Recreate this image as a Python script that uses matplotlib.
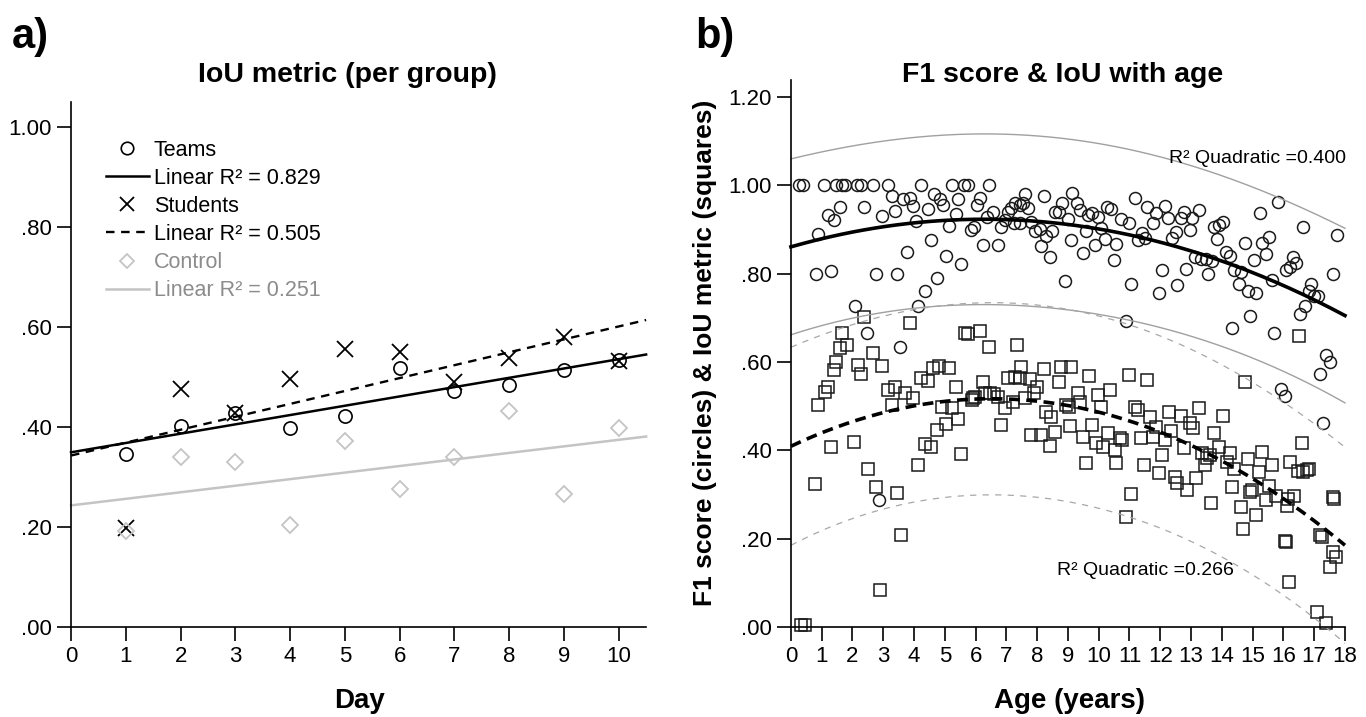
import numpy as np
import matplotlib
matplotlib.use('Agg')
import matplotlib.pyplot as plt
from matplotlib.lines import Line2D

plt.rcParams['font.family'] = ['Liberation Sans', 'DejaVu Sans']

# panel a: IoU per group and day
days = [1, 2, 3, 4, 5, 6, 7, 8, 9, 10]
teams = [0.346, 0.402, 0.428, 0.398, 0.423, 0.519, 0.472, 0.484, 0.514, 0.534]
students = [0.199, 0.477, 0.428, 0.497, 0.556, 0.551, 0.491, 0.538, 0.581, 0.533]
control = [0.193, 0.340, 0.330, 0.205, 0.372, 0.276, 0.341, 0.432, 0.267, 0.399]
group_names = ['Teams', 'Students', 'Control']
linear_r2 = ['0.829', '0.505', '0.251']

# panel b: F1 score (circles) and IoU (squares) against age
circle_age = [
    0.26, 0.40, 1.08, 1.48, 1.67, 1.77, 2.16, 2.27, 2.67, 3.16, 4.24, 5.24, 5.63, 5.74, 6.43,
    0.89, 1.19, 1.40, 1.59, 0.80, 1.29, 2.38, 2.96, 3.38, 3.27, 3.65, 3.86, 3.97, 4.06, 2.78,
    3.46, 3.76, 4.46, 4.65, 4.84, 4.95, 5.43, 5.35, 5.13, 4.55, 5.03, 5.54, 4.73, 4.35, 4.13,
    2.08, 2.46, 3.54, 5.84, 5.94, 6.03, 6.14, 6.24, 6.73, 6.38, 6.57, 6.82, 6.95, 7.04, 7.16,
    7.27, 7.43, 7.54, 7.62, 7.70, 7.25, 7.43, 7.81, 7.92, 8.08, 8.22, 8.30, 8.48, 8.12, 8.41,
    8.59, 8.70, 8.81, 9.00, 9.09, 9.13, 8.90,
    9.30, 9.38, 9.65, 9.79, 9.98, 9.60, 9.87, 9.49, 10.09, 10.19, 10.27, 10.41, 10.57, 10.49,
    10.73, 10.98, 11.17, 11.39, 11.28, 11.49, 11.57, 11.76, 11.87, 12.16, 12.25, 12.39, 12.50,
    12.07, 11.06, 11.96, 12.54, 12.85, 12.68, 12.76, 13.04, 13.26, 12.98, 13.12, 13.33, 13.47,
    13.69, 13.55, 13.73, 13.91, 14.04, 13.84, 14.12, 14.25, 14.41, 14.63, 14.56, 14.85, 15.12,
    14.74, 15.03, 15.31, 15.53, 15.44, 15.23, 15.82, 15.64, 14.92, 14.34, 15.71, 16.09, 16.20,
    16.31, 16.42, 16.63, 16.90, 16.83, 17.01, 17.12, 16.69, 16.53, 17.61, 17.75, 10.88,
    17.39, 17.50, 17.20, 15.93, 16.04, 17.30, 2.87,
]
circle_f1 = [
    1.00, 1.00, 1.00, 1.00, 1.00, 1.00, 1.00, 1.00, 1.00, 1.00, 1.00, 1.00, 1.00, 1.00, 1.00,
    0.890, 0.933, 0.922, 0.951, 0.799, 0.806, 0.951, 0.932, 0.942, 0.976, 0.970, 0.971, 0.954, 0.920, 0.799,
    0.799, 0.849, 0.946, 0.981, 0.969, 0.956, 0.970, 0.935, 0.908, 0.876, 0.840, 0.822, 0.790, 0.762, 0.727,
    0.727, 0.667, 0.635, 0.899, 0.905, 0.956, 0.971, 0.865, 0.865, 0.929, 0.941, 0.907, 0.922, 0.941, 0.948,
    0.960, 0.956, 0.960, 0.981, 0.948, 0.914, 0.914, 0.918, 0.898, 0.901, 0.976, 0.886, 0.898, 0.863, 0.839,
    0.941, 0.939, 0.961, 0.923, 0.876, 0.984, 0.784,
    0.960, 0.945, 0.933, 0.937, 0.929, 0.897, 0.865, 0.846, 0.903, 0.878, 0.952, 0.946, 0.868, 0.831,
    0.923, 0.914, 0.971, 0.893, 0.877, 0.880, 0.951, 0.914, 0.937, 0.954, 0.926, 0.880, 0.895,
    0.809, 0.778, 0.757, 0.775, 0.810, 0.926, 0.941, 0.926, 0.945, 0.899, 0.837, 0.833, 0.833,
    0.830, 0.800, 0.905, 0.910, 0.918, 0.878, 0.850, 0.840, 0.809, 0.805, 0.778, 0.762, 0.757,
    0.869, 0.831, 0.869, 0.883, 0.845, 0.938, 0.963, 0.786, 0.705, 0.678, 0.667, 0.809, 0.816,
    0.839, 0.824, 0.907, 0.778, 0.760, 0.750, 0.750, 0.727, 0.710, 0.800, 0.888, 0.693,
    0.616, 0.600, 0.572, 0.539, 0.523, 0.463, 0.288,
]
square_age = [
    2.38, 3.86, 1.67, 5.65, 5.74, 6.14, 6.43, 7.33,
    1.59, 1.81, 2.67, 1.48, 1.41, 2.19, 2.29, 2.96, 1.19, 1.10, 0.89, 4.62, 4.80, 5.13, 4.24,
    4.46, 3.16, 3.38, 3.70, 3.97, 3.27, 5.35, 4.91, 5.24, 5.43, 5.05, 4.76, 4.35, 4.55, 4.13,
    5.54, 6.24, 5.87, 5.92, 5.97, 6.30, 6.46, 6.60, 6.73, 6.95, 6.82, 7.22, 7.06, 7.27, 7.43,
    7.49, 7.76, 8.01, 7.90, 7.62, 8.22, 8.70, 8.79, 9.09, 8.30, 8.46, 8.95, 9.03, 8.59, 8.12,
    7.81, 8.41, 9.06, 2.06, 1.30, 2.49, 0.78, 2.78, 3.46,
    9.69, 10.98, 11.57, 14.74, 16.50, 9.33, 9.38, 9.98, 10.38, 10.09, 11.17, 11.28, 11.65,
    12.28, 12.68, 12.95, 13.06, 13.26, 14.04, 9.49, 9.79, 10.30, 9.92, 10.14, 10.52, 10.68,
    10.77, 11.38, 11.85, 11.76, 12.14, 12.36, 12.07, 12.76, 13.37, 13.52, 13.60, 13.73, 13.91,
    14.25, 14.17, 14.41, 13.44, 9.60, 10.57, 11.46, 11.96, 12.47, 12.54, 12.87, 13.15, 11.06,
    10.88, 14.85, 15.31, 15.21, 15.64, 14.34, 14.99, 14.92, 15.53, 15.44, 15.77, 16.15, 16.33,
    16.11, 15.12, 14.63, 13.66, 16.20, 16.47, 16.63, 16.76, 16.83, 16.61, 17.61, 17.66,
    14.70, 16.05, 16.10, 17.19, 17.25, 17.60, 17.70, 17.50, 16.17, 17.10, 17.40, 0.33, 0.45,
    3.58, 2.89,
]
square_iou = [
    0.703, 0.688, 0.667, 0.667, 0.664, 0.670, 0.635, 0.639,
    0.633, 0.639, 0.620, 0.601, 0.581, 0.593, 0.574, 0.591, 0.544, 0.533, 0.503, 0.586, 0.591, 0.586, 0.563,
    0.558, 0.537, 0.544, 0.531, 0.518, 0.503, 0.543, 0.499, 0.495, 0.470, 0.460, 0.446, 0.414, 0.407, 0.367,
    0.392, 0.556, 0.514, 0.518, 0.522, 0.529, 0.531, 0.528, 0.522, 0.495, 0.457, 0.510, 0.563, 0.567, 0.565,
    0.590, 0.561, 0.544, 0.531, 0.518, 0.584, 0.556, 0.588, 0.588, 0.488, 0.476, 0.503, 0.499, 0.442, 0.435,
    0.435, 0.410, 0.455, 0.420, 0.408, 0.357, 0.324, 0.318, 0.304,
    0.568, 0.571, 0.559, 0.556, 0.660, 0.529, 0.510, 0.525, 0.537, 0.499, 0.499, 0.491, 0.476,
    0.488, 0.478, 0.463, 0.450, 0.497, 0.478, 0.431, 0.457, 0.440, 0.416, 0.408, 0.401, 0.427,
    0.423, 0.427, 0.452, 0.431, 0.423, 0.445, 0.389, 0.405, 0.393, 0.382, 0.389, 0.440, 0.407,
    0.393, 0.374, 0.359, 0.367, 0.372, 0.371, 0.367, 0.349, 0.340, 0.327, 0.310, 0.337, 0.301,
    0.250, 0.380, 0.397, 0.352, 0.367, 0.316, 0.310, 0.306, 0.319, 0.288, 0.297, 0.291, 0.297,
    0.274, 0.254, 0.272, 0.282, 0.374, 0.354, 0.352, 0.356, 0.357, 0.417, 0.294, 0.291,
    0.222, 0.195, 0.192, 0.208, 0.205, 0.171, 0.158, 0.135, 0.103, 0.035, 0.008, 0.005, 0.005,
    0.208, 0.084,
]
quad_r2 = ['0.400', '0.266']


def quad_fit(x, y, grid):
    # quadratic fit with 95% interval for individual values
    x = np.asarray(x)
    y = np.asarray(y)
    X = np.column_stack([np.ones_like(x), x, x ** 2])
    beta = np.linalg.lstsq(X, y, rcond=None)[0]
    s = np.sqrt(np.sum((y - X @ beta) ** 2) / (len(x) - 3))
    G = np.column_stack([np.ones_like(grid), grid, grid ** 2])
    fit = G @ beta
    cov = np.linalg.inv(X.T @ X)
    se = s * np.sqrt(1 + np.einsum('ij,jk,ik->i', G, cov, G))
    return fit, fit - 1.97 * se, fit + 1.97 * se


fig = plt.figure(figsize=(13.66, 7.17), dpi=100)
axA = fig.add_axes([0.052, 0.1255, 0.421, 0.732])
axB = fig.add_axes([0.579, 0.1255, 0.4056, 0.7636])

# ---- panel a
grid_a = np.linspace(0, 10.5, 50)
grey = '#c4c4c4'
axA.plot(days, teams, 'o', mfc='none', mec='black', ms=9.5, mew=1.2)
axA.plot(days, students, 'x', color='black', ms=11, mew=1.3)
axA.plot(days, control, 'D', mfc='none', mec=grey, ms=8, mew=1.3)
styles = [dict(color='black', lw=1.8, ls='-'),
          dict(color='black', lw=1.7, ls=(0, (3.6, 2.8))),
          dict(color=grey, lw=1.8, ls='-')]
for vals, st in zip([teams, students, control], styles):
    k, b = np.polyfit(days, vals, 1)
    axA.plot(grid_a, k * grid_a + b, **st)

handles = [
    Line2D([], [], marker='o', ls='none', mfc='none', mec='black', ms=9, mew=1.2),
    Line2D([], [], **styles[0]),
    Line2D([], [], marker='x', ls='none', color='black', ms=10, mew=1.3),
    Line2D([], [], **styles[1]),
    Line2D([], [], marker='D', ls='none', mfc='none', mec=grey, ms=7, mew=1.3),
    Line2D([], [], **styles[2]),
]
labels = []
for name, r2 in zip(group_names, linear_r2):
    labels += [name, 'Linear R\u00b2 = ' + r2]
leg = axA.legend(handles, labels, loc='upper left', bbox_to_anchor=(0.045, 0.945),
                 frameon=False, fontsize=15.5, handlelength=2.0, handletextpad=0.25,
                 labelspacing=0.33, borderaxespad=0)
for t, c in zip(leg.get_texts(), ['black', 'black', 'black', 'black', '#8c8c8c', '#8c8c8c']):
    t.set_color(c)

axA.set_xlim(0, 10.5)
axA.set_ylim(0, 1.05)
axA.set_xticks(range(0, 11))
axA.set_yticks([0, 0.2, 0.4, 0.6, 0.8, 1.0])
axA.set_yticklabels(['.00', '.20', '.40', '.60', '.80', '1.00'])

# ---- panel b
grid_b = np.linspace(0, 18, 200)
axB.plot(circle_age, circle_f1, 'o', mfc='none', mec='#1a1a1a', ms=8.6, mew=1.1)
axB.plot(square_age, square_iou, 's', mfc='none', mec='#1a1a1a', ms=8.4, mew=1.1)
fit, lo, hi = quad_fit(circle_age, circle_f1, grid_b)
axB.plot(grid_b, fit, color='black', lw=2.6)
axB.plot(grid_b, lo, color='#a0a0a0', lw=1.0)
axB.plot(grid_b, hi, color='#a0a0a0', lw=1.0)
fit, lo, hi = quad_fit(square_age, square_iou, grid_b)
axB.plot(grid_b, fit, color='black', lw=2.6, ls=(0, (3, 1.8)))
axB.plot(grid_b, lo, color='#a8a8a8', lw=0.9, ls=(0, (5, 5)))
axB.plot(grid_b, hi, color='#a8a8a8', lw=0.9, ls=(0, (5, 5)))

axB.text(12.28, 1.061, 'R\u00b2 Quadratic =' + quad_r2[0], fontsize=14, va='center')
axB.text(8.64, 0.129, 'R\u00b2 Quadratic =' + quad_r2[1], fontsize=14, va='center')

axB.set_xlim(0, 18)
axB.set_ylim(0, 1.24)
axB.set_xticks(range(0, 19))
axB.set_yticks([0, 0.2, 0.4, 0.6, 0.8, 1.0, 1.2])
axB.set_yticklabels(['.00', '.20', '.40', '.60', '.80', '1.00', '1.20'])
axB.set_ylabel('F1 score (circles) & IoU metric (squares)', fontsize=19, fontweight='bold', labelpad=8)

for ax in (axA, axB):
    ax.spines['top'].set_visible(False)
    ax.spines['right'].set_visible(False)
    ax.spines['left'].set_linewidth(1.2)
    ax.spines['bottom'].set_linewidth(1.2)
    ax.tick_params(direction='out', length=10, width=1.2, labelsize=16, pad=4)
    ax.patch.set_visible(False)
    for t in ax.get_lines():
        t.set_clip_on(False)

fig.text(347 / 1366, 1 - 82 / 717, 'IoU metric (per group)', ha='center', va='baseline',
         fontsize=20.5, fontweight='bold')
fig.text(1063 / 1366, 1 - 82 / 717, 'F1 score & IoU with age', ha='center', va='baseline',
         fontsize=20.5, fontweight='bold')
fig.text(360 / 1366, 1 - 708 / 717, 'Day', ha='center', va='baseline', fontsize=20, fontweight='bold')
fig.text(1070 / 1366, 1 - 708 / 717, 'Age (years)', ha='center', va='baseline', fontsize=20,
         fontweight='bold')
fig.text(12 / 1366, 1 - 48 / 717, 'a)', ha='left', va='baseline', fontsize=30, fontweight='bold')
fig.text(695 / 1366, 1 - 48 / 717, 'b)', ha='left', va='baseline', fontsize=30, fontweight='bold')

fig.savefig('out.png', dpi=100)
